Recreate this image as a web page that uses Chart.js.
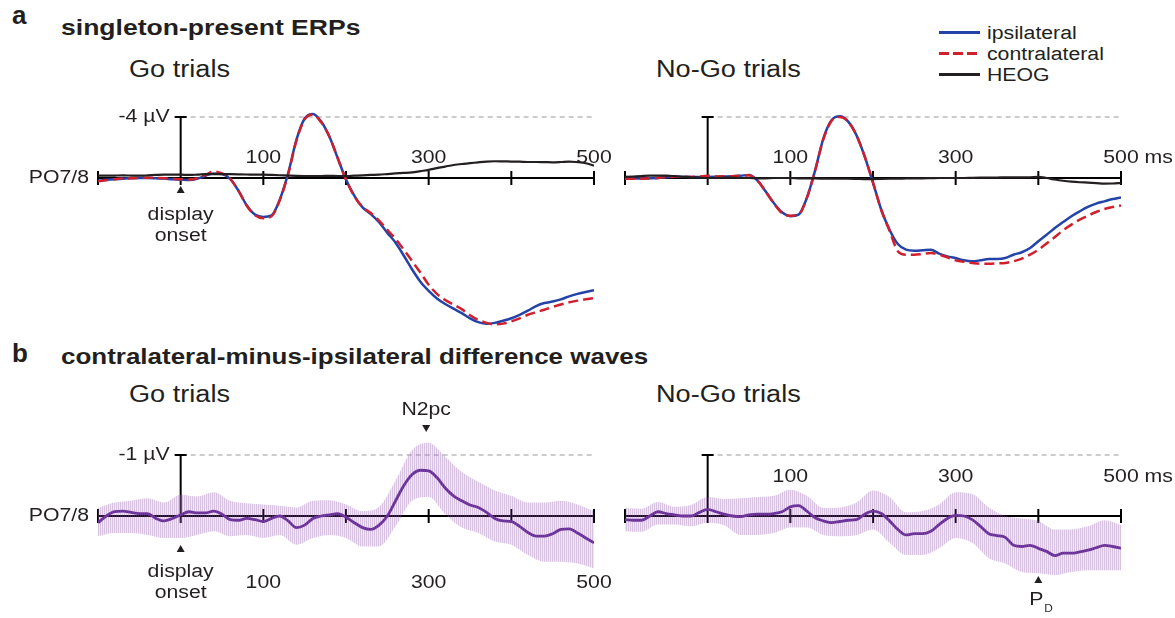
<!DOCTYPE html>
<html>
<head>
<meta charset="utf-8">
<script src="https://cdn.jsdelivr.net/npm/chart.js@4.4.1/dist/chart.umd.min.js"></script>
<style>
  body { margin: 0; background: #fff; }
  #fig { position: relative; width: 1175px; height: 618px; overflow: hidden;
         font-family: "Liberation Sans", Arial, sans-serif; color: #231f20; }
  #fig canvas { position: absolute; left: 0; top: 0; }
  .t { position: absolute; line-height: 1; white-space: nowrap;
       transform-origin: 0 50%; transform: scaleX(1.18); }
  .bold { font-weight: bold; }
  .leg { position: absolute; left: 939px; width: 41px; height: 3px; }
</style>
</head>
<body>
<div id="fig">
  <div class="t bold" style="left:12px;top:2px;font-size:26px;transform:none">a</div>
  <div class="t bold" style="left:61px;top:17px;font-size:22.5px">singleton-present ERPs</div>
  <div class="t" style="left:129px;top:58px;font-size:23px">Go trials</div>
  <div class="t" style="left:656px;top:58px;font-size:23px">No-Go trials</div>

  <div class="t bold" style="left:12px;top:340px;font-size:26px;transform:none">b</div>
  <div class="t bold" style="left:61px;top:346px;font-size:22px">contralateral-minus-ipsilateral difference waves</div>
  <div class="t" style="left:129px;top:383px;font-size:23px">Go trials</div>
  <div class="t" style="left:656px;top:383px;font-size:23px">No-Go trials</div>

  <div class="leg" style="top:31px;background:#2443a8"></div>
  <div class="leg" style="top:52px;background:repeating-linear-gradient(90deg,#d0202e 0 10px,transparent 10px 14px)"></div>
  <div class="leg" style="top:73px;background:#231f20"></div>
  <div class="t" style="left:987px;top:24px;font-size:18px">ipsilateral</div>
  <div class="t" style="left:987px;top:45px;font-size:18px">contralateral</div>
  <div class="t" style="left:987px;top:66px;font-size:18px">HEOG</div>

  <canvas id="aGo" width="1175" height="618"></canvas>
  <canvas id="aNoGo" width="1175" height="618"></canvas>
  <canvas id="bGo" width="1175" height="618"></canvas>
  <canvas id="bNoGo" width="1175" height="618"></canvas>
</div>

<script>
// time points in ms
var times = [-100,-90,-80,-70,-60,-50,-40,-30,-20,-10,
             0,10,20,30,40,50,60,70,80,90,
             100,110,120,130,140,150,160,170,180,190,
             200,210,220,230,240,250,260,270,280,290,
             300,310,320,330,340,350,360,370,380,390,
             400,410,420,430,440,450,460,470,480,490,
             500];
var bandTimes = [-100,-80,-60,-40,-20,0,20,40,60,80,100,120,140,160,180,200,
                 220,240,260,280,300,320,340,360,380,400,420,440,460,480,500];

var tickMs = [-100,0,100,200,300,400,500];
var labelMs = [100,300,500];
var labelsGo = ['100','300','500'];
var labelsNoGo = ['100','300','500 ms'];

// a: singleton-present ERPs (µV, negative up)
var ipsiGo = [0.18,0.12,0.08,0.05,0.02,0,0,0.02,0.04,0.08,
  0.1,0.13,0.05,-0.15,-0.3,-0.26,0.07,0.84,1.8,2.4,
  2.55,2.45,1.4,-0.3,-2.5,-3.9,-4.2,-3.7,-2.7,-1.3,
  0.1,1.16,1.93,2.37,2.9,3.6,4.24,5.1,6.0,6.8,
  7.4,7.9,8.26,8.57,8.86,9.2,9.45,9.56,9.5,9.36,
  9.2,8.97,8.7,8.4,8.2,8.1,7.96,7.76,7.6,7.47,
  7.36];
var contraGo = [0.22,0.15,0.08,0.04,0.02,0,-0.02,0,0.02,0.05,
  0.08,0.1,0.02,-0.2,-0.42,-0.3,0.05,0.84,1.82,2.45,
  2.64,2.5,1.45,-0.25,-2.45,-3.85,-4.15,-3.65,-2.7,-1.3,
  0.1,1.2,1.9,2.3,2.8,3.4,4.0,4.7,5.45,6.2,
  7.0,7.6,8.0,8.3,8.6,9.0,9.3,9.5,9.6,9.55,
  9.4,9.2,8.97,8.8,8.64,8.45,8.3,8.15,8.04,7.95,
  7.87];
var heogGo = [-0.15,-0.15,-0.16,-0.17,-0.16,-0.15,-0.17,-0.2,-0.22,-0.22,
  -0.22,-0.2,-0.22,-0.25,-0.26,-0.26,-0.25,-0.24,-0.23,-0.22,
  -0.22,-0.2,-0.18,-0.16,-0.14,-0.13,-0.13,-0.13,-0.14,-0.13,
  -0.13,-0.15,-0.17,-0.2,-0.22,-0.26,-0.3,-0.33,-0.37,-0.45,
  -0.53,-0.65,-0.75,-0.85,-0.92,-0.97,-1.03,-1.08,-1.1,-1.09,
  -1.08,-1.07,-1.05,-1.05,-1.04,-1.03,-1.05,-1.08,-1.04,-0.97,
  -0.81];
var ipsiNoGo = [0,0.02,0.04,0.02,0,-0.05,-0.1,-0.08,-0.07,-0.07,
  -0.07,-0.08,-0.1,-0.12,-0.15,-0.2,0.15,0.87,1.64,2.25,
  2.5,2.4,1.3,-0.5,-2.6,-3.8,-4.05,-3.7,-2.8,-1.4,
  0.3,2.08,3.39,4.33,4.7,4.77,4.74,4.7,4.96,5.14,
  5.25,5.4,5.46,5.4,5.31,5.31,5.25,5.03,4.87,4.59,
  4.15,3.72,3.28,2.89,2.51,2.19,1.9,1.68,1.53,1.38,
  1.27];
var contraNoGo = [0.05,0.05,0.05,0.02,0,-0.05,-0.08,-0.08,-0.07,-0.1,
  -0.15,-0.1,-0.1,-0.12,-0.15,-0.18,0.15,0.87,1.66,2.3,
  2.47,2.4,1.3,-0.5,-2.55,-3.75,-4.0,-3.7,-2.8,-1.4,
  0.3,2.1,3.45,4.8,5.03,5.03,4.98,4.92,5.03,5.2,
  5.4,5.5,5.57,5.62,5.62,5.6,5.57,5.46,5.29,5.03,
  4.7,4.3,3.87,3.43,3.06,2.73,2.47,2.23,2.03,1.9,
  1.81];
var heogNoGo = [-0.07,-0.1,-0.13,-0.15,-0.15,-0.15,-0.12,-0.08,-0.05,-0.02,
  0,0,-0.02,-0.02,0,0,0.02,0.02,0,0,
  0,0.02,0.03,0.03,0.04,0.05,0.05,0.05,0.06,0.07,
  0.07,0.06,0.05,0.04,0.03,0.02,0.02,0.01,0,0,
  0,0,-0.01,-0.02,-0.03,-0.03,-0.04,-0.04,-0.04,-0.05,
  -0.07,0,0.1,0.18,0.24,0.28,0.3,0.33,0.37,0.36,
  0.33];

// b: contralateral-minus-ipsilateral difference waves
var diffGo = [0.11,0,-0.07,-0.08,-0.06,-0.04,-0.04,0.04,0.08,0.04,
  -0.02,-0.07,-0.05,-0.05,-0.08,-0.03,0.06,0.07,0.04,0.06,
  0.09,0.04,0,0.08,0.19,0.15,0.04,0,-0.02,-0.04,
  0.02,0.11,0.19,0.22,0.15,0,-0.25,-0.5,-0.68,-0.75,
  -0.74,-0.63,-0.46,-0.33,-0.25,-0.18,-0.14,-0.06,0.04,0.08,
  0.09,0.17,0.27,0.33,0.33,0.29,0.22,0.21,0.28,0.36,
  0.44];
var diffGoUpper = [-0.13,-0.22,-0.25,-0.29,-0.22,-0.35,-0.32,-0.39,-0.25,-0.21,-0.19,-0.17,-0.14,-0.25,-0.26,-0.19,
  -0.08,-0.15,-0.58,-1.08,-1.2,-0.97,-0.72,-0.56,-0.42,-0.33,-0.22,-0.22,-0.25,-0.19,-0.08];
var diffGoLower = [0.33,0.28,0.28,0.31,0.36,0.36,0.31,0.25,0.33,0.31,0.36,0.31,0.47,0.36,0.31,0.36,
  0.5,0.5,0.17,-0.25,-0.31,-0.03,0.19,0.28,0.42,0.47,0.64,0.75,0.75,0.78,0.86];
var diffNoGo = [0.06,0.07,0.07,0,-0.07,-0.04,-0.02,0,0,-0.06,
  -0.11,-0.07,-0.03,0,0.01,-0.02,-0.03,-0.03,-0.04,-0.07,
  -0.15,-0.17,-0.08,0.03,0.08,0.11,0.09,0.07,0.06,-0.03,
  -0.08,-0.04,0.08,0.22,0.31,0.29,0.29,0.25,0.14,0.04,
  -0.01,0,0.06,0.17,0.29,0.32,0.35,0.48,0.5,0.48,
  0.53,0.58,0.65,0.61,0.61,0.59,0.56,0.52,0.48,0.5,
  0.53];
var diffNoGoUpper = [-0.13,-0.12,-0.23,-0.15,-0.18,-0.31,-0.28,-0.29,-0.31,-0.33,-0.43,-0.33,-0.13,-0.14,-0.22,-0.42,
  -0.31,-0.06,-0.08,-0.19,-0.39,-0.36,-0.14,0,0.04,0.08,0.22,0.22,0.17,0.07,0.15];
var diffNoGoLower = [0.25,0.26,0.14,0.14,0.17,0.11,0.15,0.31,0.31,0.28,0.19,0.19,0.31,0.33,0.31,0.22,
  0.44,0.64,0.64,0.53,0.36,0.44,0.69,0.78,0.92,0.94,0.97,0.92,0.89,0.89,0.89];

var SX = 1.18;
var FONT = '"Liberation Sans", Arial, sans-serif';
var INK = '#231f20';

function pts(xs, ys) {
  return xs.map(function (x, i) { return { x: x, y: ys[i] }; });
}

function txt(c, s, x, y, size, align) {
  c.save();
  c.translate(x, y);
  c.scale(SX, 1);
  c.font = size + 'px ' + FONT;
  c.textAlign = align || 'center';
  c.textBaseline = 'middle';
  c.fillStyle = INK;
  c.fillText(s, 0, 0);
  c.restore();
}

function triangle(c, x, y, up) {
  c.save();
  c.fillStyle = INK;
  c.beginPath();
  if (up) {
    c.moveTo(x, y - 4); c.lineTo(x + 4, y + 3); c.lineTo(x - 4, y + 3);
  } else {
    c.moveTo(x, y + 4); c.lineTo(x + 4, y - 3); c.lineTo(x - 4, y - 3);
  }
  c.closePath();
  c.fill();
  c.restore();
}

// axes, scale bar and annotations drawn from the chart's own scales
var erpAxes = {
  id: 'erpAxes',
  beforeDatasetsDraw: function (chart, args, opts) {
    var c = chart.ctx, xs = chart.scales.x, ys = chart.scales.y;
    var y0 = ys.getPixelForValue(0);
    var x0 = xs.getPixelForValue(0);
    var yU = ys.getPixelForValue(opts.unitValue);
    var xEnd = xs.getPixelForValue(500);
    c.save();
    c.strokeStyle = '#9a9a9a';
    c.lineWidth = 1.2;
    c.setLineDash([5, 4]);
    c.beginPath();
    c.moveTo(x0 + 10, yU);
    c.lineTo(xEnd, yU);
    c.stroke();
    c.setLineDash([]);
    c.strokeStyle = '#000';
    c.lineWidth = 2;
    c.beginPath();
    c.moveTo(xs.getPixelForValue(-100), y0);
    c.lineTo(xEnd, y0);
    tickMs.forEach(function (t) {
      var x = xs.getPixelForValue(t);
      c.moveTo(x, y0 - 7);
      c.lineTo(x, y0 + 7);
    });
    c.moveTo(x0, y0);
    c.lineTo(x0, yU);
    c.moveTo(x0 - 6, yU);
    c.lineTo(x0 + 6, yU);
    c.stroke();
    c.restore();
  },
  afterDraw: function (chart, args, opts) {
    var c = chart.ctx, xs = chart.scales.x, ys = chart.scales.y;
    var y0 = ys.getPixelForValue(0);
    var x0 = xs.getPixelForValue(0);
    if (opts.showLeft) {
      txt(c, 'PO7/8', xs.getPixelForValue(-100) - 9, y0, 18, 'right');
      txt(c, opts.unitLabel, x0 - 11, ys.getPixelForValue(opts.unitValue), 18, 'right');
    }
    opts.tickLabels.forEach(function (s, i) {
      var x = xs.getPixelForValue(labelMs[i]);
      var y = y0 + opts.labelDy;
      if (s.indexOf(' ms') > 0) {
        c.save();
        c.font = '18px ' + FONT;
        var w = c.measureText('500').width * SX;
        c.restore();
        txt(c, s, x - w / 2, y, 18, 'left');
      } else {
        txt(c, s, x, y, 18, 'center');
      }
    });
    opts.markers.forEach(function (m) {
      var x = xs.getPixelForValue(m.t);
      triangle(c, x, y0 + m.dy, m.up);
      m.texts.forEach(function (tx) {
        txt(c, tx.s, x + (tx.dx || 0), y0 + tx.dy, tx.size || 18, tx.align || 'center');
      });
    });
  }
};

function stripes() {
  var p = document.createElement('canvas');
  p.width = 2; p.height = 4;
  var pc = p.getContext('2d');
  pc.fillStyle = 'rgba(150,95,175,0.38)';
  pc.fillRect(0, 0, 1, 4);
  pc.fillStyle = 'rgba(150,95,175,0.14)';
  pc.fillRect(1, 0, 1, 4);
  return pc.createPattern(p, 'repeat');
}

function erpLine(data, color, width, dash) {
  return {
    data: data,
    borderColor: color,
    borderWidth: width,
    borderDash: dash || [],
    pointRadius: 0,
    fill: false,
    cubicInterpolationMode: 'monotone'
  };
}

function makePanel(id, geo, datasets, ann) {
  var top = geo.y0 + geo.ymin * geo.ppu;
  var bottom = geo.y0 + geo.ymax * geo.ppu;
  var ctx = document.getElementById(id).getContext('2d');
  return new Chart(ctx, {
    type: 'line',
    data: { datasets: datasets },
    options: {
      responsive: false,
      animation: false,
      events: [],
      layout: { padding: { left: geo.x0, right: 1175 - geo.x1, top: top, bottom: 618 - bottom } },
      scales: {
        x: { type: 'linear', min: -100, max: 500, display: false },
        y: { min: geo.ymin, max: geo.ymax, reverse: true, display: false }
      },
      plugins: { legend: { display: false }, tooltip: { enabled: false }, erpAxes: ann }
    },
    plugins: [erpAxes]
  });
}

var onsetA = { t: 0, dy: 12, up: true, texts: [{ s: 'display', dy: 37 }, { s: 'onset', dy: 58 }] };
var onsetB = { t: 0, dy: 33, up: true, texts: [{ s: 'display', dy: 56 }, { s: 'onset', dy: 77 }] };

makePanel('aGo', { x0: 98, x1: 594, y0: 178, ppu: 15.25, ymin: -5, ymax: 10 }, [
  erpLine(pts(times, heogGo), '#231f20', 2.2),
  erpLine(pts(times, contraGo), '#d0202e', 2.5, [10, 5]),
  erpLine(pts(times, ipsiGo), '#2443a8', 2.5)
], { showLeft: true, unitLabel: '-4 µV', unitValue: -4, tickLabels: labelsGo, labelDy: -20, markers: [onsetA] });

makePanel('aNoGo', { x0: 625, x1: 1121, y0: 178, ppu: 15.25, ymin: -5, ymax: 10 }, [
  erpLine(pts(times, heogNoGo), '#231f20', 2.2),
  erpLine(pts(times, contraNoGo), '#d0202e', 2.5, [10, 5]),
  erpLine(pts(times, ipsiNoGo), '#2443a8', 2.5)
], { showLeft: false, unitLabel: '', unitValue: -4, tickLabels: labelsNoGo, labelDy: -20, markers: [] });

var bandFill = stripes();

makePanel('bGo', { x0: 98, x1: 594, y0: 516, ppu: 61, ymin: -1.5, ymax: 1.2 }, [
  { data: pts(bandTimes, diffGoUpper), borderWidth: 0, pointRadius: 0, fill: false, cubicInterpolationMode: 'monotone' },
  { data: pts(bandTimes, diffGoLower), borderWidth: 0, pointRadius: 0, fill: '-1', backgroundColor: bandFill, cubicInterpolationMode: 'monotone' },
  erpLine(pts(times, diffGo), '#5f2796', 2.8)
], { showLeft: true, unitLabel: '-1 µV', unitValue: -1, tickLabels: labelsGo, labelDy: 67,
     markers: [onsetB, { t: 297, dy: -88, up: false, texts: [{ s: 'N2pc', dy: -106 }] }] });

makePanel('bNoGo', { x0: 625, x1: 1121, y0: 516, ppu: 61, ymin: -1.5, ymax: 1.2 }, [
  { data: pts(bandTimes, diffNoGoUpper), borderWidth: 0, pointRadius: 0, fill: false, cubicInterpolationMode: 'monotone' },
  { data: pts(bandTimes, diffNoGoLower), borderWidth: 0, pointRadius: 0, fill: '-1', backgroundColor: bandFill, cubicInterpolationMode: 'monotone' },
  erpLine(pts(times, diffNoGo), '#5f2796', 2.8)
], { showLeft: false, unitLabel: '', unitValue: -1, tickLabels: labelsNoGo, labelDy: -39,
     markers: [{ t: 400, dy: 64, up: true, texts: [{ s: 'P', dy: 84, dx: -2 }, { s: 'D', dy: 93, dx: 6, size: 10, align: 'left' }] }] });
</script>
</body>
</html>
